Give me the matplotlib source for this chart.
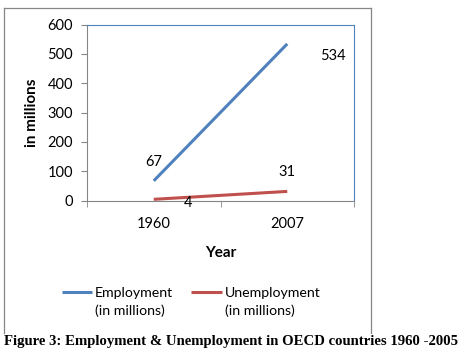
import numpy as np
import matplotlib.pyplot as plt
from matplotlib.lines import Line2D

plt.rcParams['font.family'] = ['Lato', 'DejaVu Sans']

years = ["1960", "2007"]
employment = [67, 534]
unemployment = [4, 31]
series_names = ["Employment", "Unemployment"]
unit_note = "(in millions)"
caption = "Figure 3: Employment & Unemployment in OECD countries 1960 -2005"

blue = "#4F81BD"
red = "#C0504D"
grey = "#868686"

fig = plt.figure(figsize=(4.65, 3.52), dpi=100)
W, H = 465, 352
ax = fig.add_axes([87 / W, 1 - 200.5 / H, (354 - 87) / W, (200.5 - 24.5) / H])

x = np.arange(len(years))
l1, = ax.plot(x, employment, color=blue, lw=2.2, solid_capstyle='butt')
l2, = ax.plot(x, unemployment, color=red, lw=2.2, solid_capstyle='butt')

ax.set_xlim(-0.5, 1.5)
ax.set_ylim(0, 600)
ax.set_yticks(range(0, 601, 100))
ax.set_xticks(x)
ax.set_xticklabels(years)
ax.set_xticks([-0.5, 0.5, 1.5], minor=True)
ax.tick_params(axis='x', which='major', length=0, pad=12, labelsize=10.5)
ax.tick_params(axis='x', which='minor', length=4, color=grey, direction='out')
ax.tick_params(axis='y', length=4, color=grey, labelsize=10.5, pad=6)

for s in ['left', 'bottom']:
    ax.spines[s].set_color(grey)
for s in ['top', 'right']:
    ax.spines[s].set_color(blue)
    ax.spines[s].set_linewidth(0.8)

ax.set_ylabel("in millions", fontsize=11, fontweight='bold', labelpad=6)
ax.set_xlabel("Year", fontsize=11, fontweight='bold', labelpad=11)

# data labels (placed as in the original chart)
ax.annotate(str(employment[0]), (x[0], employment[0]), xytext=(0, 13.5),
            textcoords='offset points', ha='center', va='center', fontsize=10.5)
ax.annotate(str(employment[1]), (x[1], employment[1]), xytext=(33, -9),
            textcoords='offset points', ha='center', va='center', fontsize=10.5)
ax.annotate(str(unemployment[0]), (x[0], unemployment[0]), xytext=(24.5, -2.5),
            textcoords='offset points', ha='center', va='center', fontsize=10.5,
            annotation_clip=False)
ax.annotate(str(unemployment[1]), (x[1], unemployment[1]), xytext=(0, 13.7),
            textcoords='offset points', ha='center', va='center', fontsize=10.5)

# legend: handle next to the first line, unit note on a second row
blank = Line2D([], [], color='none')
fig.legend([l1, blank, l2, blank],
           [series_names[0], unit_note, series_names[1], unit_note],
           loc='center', ncol=2, frameon=False,
           bbox_to_anchor=(191 / W, 1 - 302 / H), fontsize=10.2,
           handlelength=2.15, handletextpad=0.2, columnspacing=1.3,
           labelspacing=0.35)

# outer chart frame
for xs, ys in [([4, 4], [8, 333]), ([4, 371], [8, 8]), ([371, 371], [8, 333])]:
    fig.add_artist(Line2D([v / W for v in xs], [1 - v / H for v in ys],
                          color=grey, lw=0.9))

fig.text(4 / W, 1 - 341 / H, caption, family='Liberation Serif',
         fontweight='bold', fontsize=10.65, ha='left', va='center')

fig.savefig("out.png", dpi=100)
